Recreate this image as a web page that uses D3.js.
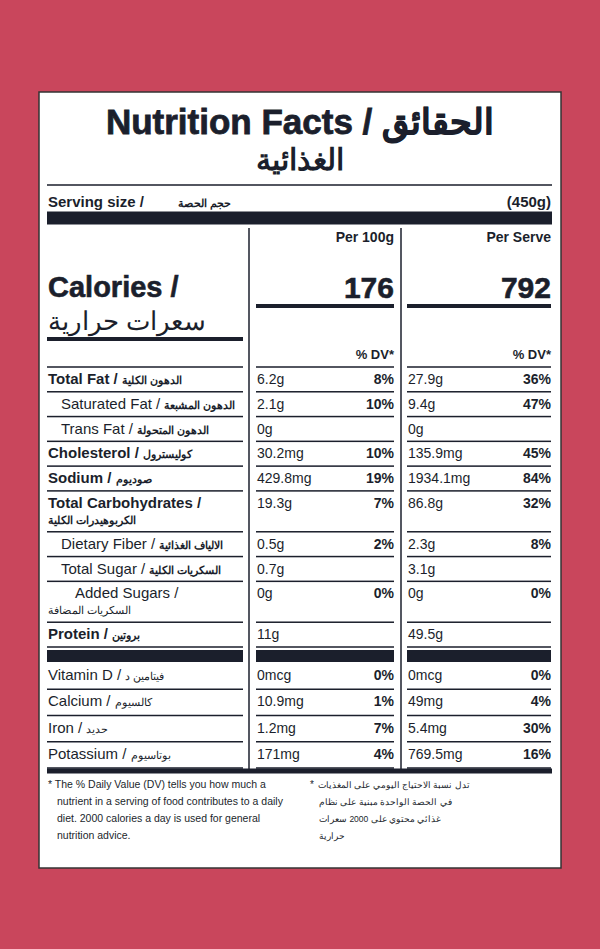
<!DOCTYPE html>
<html><head><meta charset="utf-8">
<script src="https://cdn.jsdelivr.net/npm/d3@7"></script>
<style>body{margin:0;background:#c9465c}</style>
</head><body>
<svg width="600" height="949"></svg>
<script>
// nutrients: label, arabic, bold, indent, per100, dv100, perServe, dvServe, rowHeight
var nutrients = ['Total Fat', 'Saturated Fat', 'Trans Fat', 'Cholesterol', 'Sodium', 'Total Carbohydrates', 'Dietary Fiber', 'Total Sugar', 'Added Sugars', 'Protein']
var arabic = ['الدهون الكلية', 'الدهون المشبعة', 'الدهون المتحولة', 'كوليسترول', 'صوديوم', 'الكربوهيدرات الكلية', 'الالياف الغذائية', 'السكريات الكلية', 'السكريات المضافة', 'بروتين']
var isBold = [1, 0, 0, 1, 1, 1, 0, 0, 0, 1]
var per100 = ['6.2g', '2.1g', '0g', '30.2mg', '429.8mg', '19.3g', '0.5g', '0.7g', '0g', '11g']
var dv100 = ['8%', '10%', '', '10%', '19%', '7%', '2%', '', '0%', '']
var perServe = ['27.9g', '9.4g', '0g', '135.9mg', '1934.1mg', '86.8g', '2.3g', '3.1g', '0g', '49.5g']
var dvServe = ['36%', '47%', '', '45%', '84%', '32%', '8%', '', '0%', '']
var rowSpan = [1, 1, 1, 1, 1, 1.65, 1, 1, 1.65, 1]

var vitamins = ['Vitamin D', 'Calcium', 'Iron', 'Potassium']
var vitArabic = ['فيتامين د', 'كالسيوم', 'حديد', 'بوتاسيوم']
var vit100 = ['0mcg', '10.9mg', '1.2mg', '171mg']
var vitDv100 = ['0%', '1%', '7%', '4%']
var vitServe = ['0mcg', '49mg', '5.4mg', '769.5mg']
var vitDvServe = ['0%', '4%', '30%', '16%']

var calories = [176, 792]
var ink = '#1b1f2c'
var svg = d3.select('svg')
var F = 'Liberation Sans, Arial, sans-serif'

svg.append('rect').attr('x', 39).attr('y', 92).attr('width', 522).attr('height', 776)
    .attr('fill', '#fff').attr('stroke', '#333').attr('stroke-width', 1.5)

function txt(x, y, s, size, w, anchor) {
    return svg.append('text').attr('x', x).attr('y', y).text(s)
        .attr('font-family', F).attr('font-size', size).attr('font-weight', w || 'normal')
        .attr('text-anchor', anchor || 'start').attr('fill', ink)
}
function hline(x1, x2, y, h) {
    svg.append('rect').attr('x', x1).attr('y', y - h / 2).attr('width', x2 - x1).attr('height', h).attr('fill', ink)
}

txt(300, 134, 'Nutrition Facts / الحقائق', 35, 900, 'middle').attr('stroke', ink).attr('stroke-width', 0.8)
txt(300, 170, 'الغذائية', 30, 700, 'middle')
hline(47, 552, 185, 1.5)
txt(48, 207, 'Serving size / ', 15, 700)
txt(178, 207, 'حجم الحصة', 11, 700)
txt(551, 207, '(450g)', 15, 700, 'end')
hline(47, 552, 218, 13)

// columns
var col = {lab: [47, 243], a: [256, 394], b: [407, 551]}
svg.append('line').attr('x1', 249).attr('x2', 249).attr('y1', 228).attr('y2', 770).attr('stroke', ink).attr('stroke-width', 1.5)
svg.append('line').attr('x1', 401).attr('x2', 401).attr('y1', 228).attr('y2', 770).attr('stroke', ink).attr('stroke-width', 1.5)

txt(394, 242, 'Per 100g', 14, 700, 'end')
txt(551, 242, 'Per Serve', 14, 700, 'end')
txt(48, 297, 'Calories /', 29, 900).attr('stroke', ink).attr('stroke-width', 0.6)
txt(48, 330, 'سعرات حرارية', 26, 400)
hline(47, 243, 339, 4)
var calCols = [col.a, col.b]
svg.selectAll('.cal').data(calories).enter().append('text')
    .attr('x', function (d, i) { return calCols[i][1] }).attr('y', 298)
    .attr('text-anchor', 'end').attr('font-family', F).attr('font-size', 30).attr('font-weight', 900)
    .attr('fill', ink).attr('stroke', ink).attr('stroke-width', 0.6).text(function (d) { return d })
calCols.forEach(function (c) { hline(c[0], c[1], 306, 4); txt(c[1], 359, '% DV*', 13, 700, 'end') })
;[col.lab, col.a, col.b].forEach(function (c) { hline(c[0], c[1], 367, 1.5) })

// nutrient rows with a cumulative scale
var cum = [0]
rowSpan.forEach(function (s, i) { cum.push(cum[i] + s) })
var y = d3.scaleLinear().domain([0, cum[cum.length - 1]]).range([367, 647])

function drawRow(top, bottom, i, lab, ar, bold, indent, v1, d1, v2, d2, size) {
    var base = top + 17
    var t = txt(48 + indent, base, '', size, bold ? 700 : 400)
    t.append('tspan').text(lab + ' / ')
    var arab = t.append('tspan').attr('font-size', 11).attr('font-weight', 700).text(ar)
    txt(257, base, v1, 14)
    txt(394, base, d1, 14, 700, 'end')
    txt(408, base, v2, 14)
    txt(551, base, d2, 14, 700, 'end')
    ;[col.lab, col.a, col.b].forEach(function (c) { hline(c[0], c[1], bottom, 1.5) })
    return t
}

nutrients.forEach(function (n, i) {
    var top = y(cum[i]), bot = y(cum[i + 1])
    var indent = isBold[i] ? 0 : (n === 'Added Sugars' ? 27 : 13)
    if (n === 'Total Carbohydrates' || n === 'Added Sugars') {
        var t = txt(48 + indent, top + 17, n + ' /', 15, isBold[i] ? 700 : 400)
        if (isBold[i]) t.attr('font-size', 15)
        txt(48, top + 33, arabic[i], 11, isBold[i] ? 700 : 400)
        drawRow(top, bot, i, '', '', 0, 0, per100[i], dv100[i], perServe[i], dvServe[i], 15).remove()
    } else {
        drawRow(top, bot, i, n, arabic[i], isBold[i], indent, per100[i], dv100[i], perServe[i], dvServe[i], 15)
    }
})
hline(47, 243, 656, 12); hline(256, 394, 656, 12); hline(407, 551, 656, 12)

var yv = d3.scaleBand().domain(vitamins).range([663, 768])
vitamins.forEach(function (v, i) {
    var top = yv(v), bot = top + yv.bandwidth()
    var t = drawRow(top, bot, i, v, vitArabic[i], 0, 0, vit100[i], vitDv100[i], vitServe[i], vitDvServe[i], 15)
    t.select('tspan:last-child').attr('font-weight', 400)
})
hline(47, 552, 771, 5)

var footEn = ['* The % Daily Value (DV) tells you how much a', 'nutrient in a serving of food contributes to a daily', 'diet. 2000 calories a day is used for general', 'nutrition advice.']
var footAr = ['تدل نسبة الاحتياج اليومي على المغذيات', 'في الحصة الواحدة مبنية على نظام', 'غذائي محتوي على 2000 سعرات', 'حرارية']
footEn.forEach(function (s, i) { txt(i ? 57 : 48, 788 + i * 17, s, 10.5) })
txt(310, 788, '*', 10)
footAr.forEach(function (s, i) { txt(i ? 319 : 318, 788 + i * 17, s, 8.5) })
</script>
</body></html>
